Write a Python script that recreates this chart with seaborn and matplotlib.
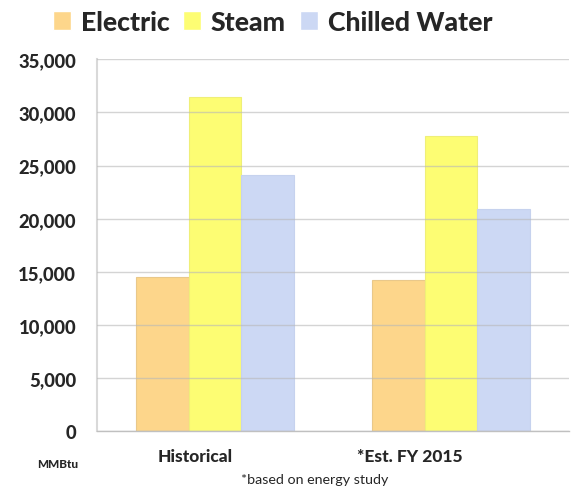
import matplotlib
matplotlib.use("Agg")
import matplotlib.pyplot as plt
import matplotlib.transforms as mtransforms
from matplotlib.ticker import FuncFormatter
import seaborn as sns
import pandas as pd

categories = ["Historical", "*Est. FY 2015"]
series_names = ["Electric", "Steam", "Chilled Water"]
electric = [14500, 14200]
steam = [31500, 27800]
chilled_water = [24100, 20950]
y_ticks = [0, 5000, 10000, 15000, 20000, 25000, 30000, 35000]
colors = ["#FDD68B", "#FDFD73", "#CCD8F4"]
edge_colors = ["#E9C88A", "#EFEF78", "#C6D2EE"]

rows = []
for name, vals in zip(series_names, [electric, steam, chilled_water]):
    for c, v in zip(categories, vals):
        rows.append({"Category": c, "Series": name, "Value": v})
df = pd.DataFrame(rows)

sns.set_theme(style="white")
plt.rcParams["font.family"] = ["Lato", "DejaVu Sans"]

fig = plt.figure(figsize=(5.76, 4.89), dpi=100)
ax = fig.add_axes([97/576, 1-432.3/489, (569-97)/576, (432.3-60.3)/489])

sns.barplot(data=df, x="Category", y="Value", hue="Series", order=categories,
            hue_order=series_names, palette=colors, width=0.668, gap=0,
            saturation=1, ax=ax, errorbar=None)

for i, cont in enumerate(ax.containers):
    for p in cont:
        p.set_edgecolor(edge_colors[i])
        p.set_linewidth(0.8)

ax.set_ylim(0, 35000)
ax.set_xlim(-0.5, 1.5)
ax.set_yticks(y_ticks)
ax.yaxis.set_major_formatter(FuncFormatter(lambda v, p: f"{int(v):,}"))
ax.set_xlabel("")
ax.set_ylabel("")

ax.set_axisbelow(False)
ax.yaxis.grid(True, color="#b8b8b8", alpha=0.6, linewidth=1.0)
ax.xaxis.grid(False)

for s in ["top", "right"]:
    ax.spines[s].set_visible(False)
ax.spines["left"].set_color("#d9d9d9")
ax.spines["left"].set_linewidth(1.5)
ax.spines["bottom"].set_color("#c0c0c0")
ax.spines["bottom"].set_linewidth(1.0)

ax.tick_params(axis="y", length=0, pad=15, labelsize=13.3)
ax.tick_params(axis="x", length=0, pad=12, labelsize=12.5)
for lab in ax.get_yticklabels():
    lab.set_fontweight("black")
offsets = [-20, -41]
for lab, off in zip(ax.get_xticklabels(), offsets):
    lab.set_fontweight("black")
    lab.set_transform(lab.get_transform() + mtransforms.ScaledTranslation(off/100, 0, fig.dpi_scale_trans))

handles, labels = ax.get_legend_handles_labels()
ax.legend(handles, labels, ncol=3, loc="center", bbox_to_anchor=(0.473, 0.953),
          bbox_transform=fig.transFigure, frameon=False,
          prop={"weight": "black", "size": 19.2}, handlelength=0.68, handleheight=0.68,
          handletextpad=0.36, columnspacing=0.52, borderaxespad=0)

fig.text(58/576, 1-465/489, "MMBtu", fontsize=8.5, fontweight="black", ha="center", va="center")
fig.text(315/576, 1-480/489, "*based on energy study", fontsize=10.3, ha="center", va="center")

fig.savefig("out.png", dpi=100)
